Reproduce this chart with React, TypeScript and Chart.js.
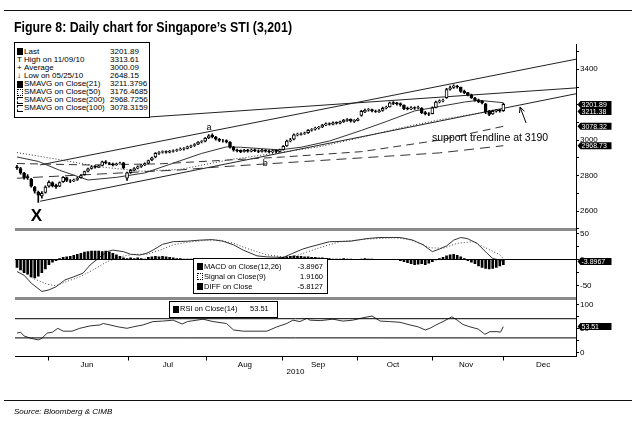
import React, { useEffect, useRef } from 'react';
import { Chart, registerables } from 'chart.js';

Chart.register(...registerables);

const FONT = '"Liberation Sans", Arial, Helvetica, sans-serif';

// ---------------- data ----------------
// x axis: trading-day index (0 = mid May 2010)
const X_MIN = -0.56;
const X_MAX = 157.46;

const MONTH_LABELS = ['Jun', 'Jul', 'Aug', 'Sep', 'Oct', 'Nov', 'Dec'];
const MONTH_STARTS = [9, 31.3, 53.5, 74.9, 95.8, 116.9, 136.9];
const MONTH_MIDS = [19.7, 42.5, 64.2, 84.8, 105.9, 126.5, 148.2];
const YEAR_LABEL = '2010';

const OPENS = [
  2850, 2840, 2812, 2795, 2780, 2735, 2705, 2685, 2705, 2740,
  2760, 2745, 2740, 2765, 2788, 2770, 2770, 2778, 2788, 2805,
  2825, 2840, 2852, 2846, 2858, 2878, 2870, 2866, 2862, 2868,
  2872, 2785, 2818, 2832, 2842, 2852, 2860, 2870, 2888, 2905,
  2926, 2932, 2936, 2932, 2938, 2942, 2946, 2950, 2954, 2964,
  2970, 2978, 2990, 2994, 3012, 3028, 3018, 3004, 2996, 2998,
  2988, 2960, 2944, 2942, 2936, 2944, 2938, 2945, 2940, 2936,
  2943, 2938, 2934, 2942, 2936, 2946, 2968, 2996, 3005, 3030,
  3033, 3038, 3042, 3056, 3062, 3070, 3074, 3086, 3094, 3090,
  3100, 3096, 3104, 3112, 3118, 3106, 3112, 3140, 3160, 3170,
  3172, 3164, 3160, 3168, 3182, 3188, 3212, 3210, 3206, 3198,
  3180, 3176, 3184, 3180, 3180, 3156, 3148, 3150, 3185, 3216,
  3224, 3240, 3288, 3298, 3305, 3298, 3276, 3268, 3256, 3238,
  3226, 3220, 3205, 3162, 3148, 3164, 3170, 3166,
];
const HIGHS = [
  2858, 2846, 2818, 2805, 2784, 2740, 2712, 2710, 2742, 2770,
  2765, 2752, 2765, 2795, 2792, 2778, 2780, 2790, 2805, 2826,
  2842, 2855, 2856, 2858, 2882, 2884, 2875, 2870, 2870, 2876,
  2875, 2820, 2835, 2845, 2855, 2862, 2872, 2888, 2905, 2930,
  2936, 2940, 2940, 2942, 2946, 2950, 2956, 2958, 2966, 2972,
  2980, 2992, 2998, 3015, 3032, 3035, 3022, 3010, 3004, 3002,
  2992, 2965, 2950, 2946, 2948, 2948, 2950, 2950, 2945, 2948,
  2947, 2944, 2946, 2946, 2950, 2970, 3000, 3010, 3035, 3040,
  3042, 3046, 3060, 3066, 3074, 3078, 3090, 3098, 3098, 3104,
  3104, 3108, 3118, 3122, 3120, 3116, 3124, 3168, 3175, 3178,
  3176, 3170, 3172, 3186, 3192, 3215, 3218, 3214, 3210, 3200,
  3186, 3190, 3188, 3192, 3184, 3162, 3156, 3188, 3220, 3228,
  3232, 3292, 3305, 3313, 3310, 3300, 3282, 3270, 3260, 3242,
  3232, 3224, 3208, 3168, 3170, 3174, 3174, 3208,
];
const LOWS = [
  2835, 2808, 2780, 2778, 2735, 2700, 2648, 2672, 2700, 2735,
  2736, 2728, 2738, 2762, 2765, 2760, 2765, 2772, 2785, 2802,
  2820, 2836, 2842, 2844, 2855, 2866, 2862, 2855, 2858, 2864,
  2838, 2772, 2812, 2826, 2838, 2846, 2856, 2866, 2884, 2900,
  2920, 2926, 2926, 2928, 2932, 2936, 2942, 2944, 2950, 2958,
  2965, 2974, 2984, 2990, 3008, 3012, 3000, 2992, 2988, 2984,
  2955, 2938, 2934, 2930, 2932, 2932, 2934, 2935, 2930, 2932,
  2932, 2928, 2930, 2930, 2932, 2944, 2965, 2990, 3002, 3024,
  3028, 3032, 3038, 3050, 3056, 3062, 3070, 3082, 3084, 3086,
  3090, 3092, 3100, 3106, 3102, 3100, 3108, 3136, 3155, 3164,
  3160, 3156, 3156, 3164, 3176, 3186, 3200, 3198, 3192, 3172,
  3170, 3172, 3174, 3176, 3150, 3142, 3138, 3148, 3182, 3210,
  3216, 3236, 3282, 3292, 3294, 3270, 3262, 3250, 3236, 3220,
  3212, 3205, 3150, 3138, 3145, 3158, 3158, 3162,
];
const CLOSES = [
  2843, 2815, 2790, 2788, 2740, 2712, 2690, 2700, 2735, 2762,
  2742, 2738, 2760, 2790, 2772, 2768, 2775, 2785, 2800, 2822,
  2838, 2850, 2848, 2853, 2877, 2872, 2868, 2860, 2866, 2870,
  2845, 2815, 2830, 2840, 2850, 2858, 2868, 2885, 2900, 2925,
  2930, 2935, 2932, 2937, 2940, 2945, 2950, 2952, 2962, 2968,
  2975, 2988, 2992, 3010, 3025, 3020, 3005, 2998, 2996, 2990,
  2962, 2945, 2940, 2935, 2942, 2938, 2944, 2940, 2936, 2942,
  2938, 2935, 2940, 2937, 2945, 2965, 2995, 3002, 3030, 3032,
  3036, 3040, 3055, 3060, 3068, 3072, 3085, 3092, 3090, 3098,
  3096, 3103, 3112, 3116, 3108, 3112, 3118, 3162, 3168, 3172,
  3165, 3162, 3166, 3180, 3185, 3210, 3208, 3206, 3200, 3178,
  3176, 3183, 3180, 3184, 3155, 3150, 3146, 3182, 3215, 3222,
  3225, 3285, 3295, 3306, 3300, 3275, 3268, 3255, 3240, 3225,
  3217, 3210, 3160, 3145, 3163, 3168, 3165, 3201.89,
];

// moving averages, read as [day index, value]
const SMA21 = [[0, 2905], [6, 2880], [12, 2830], [20, 2775], [28, 2790], [36, 2815], [44, 2870], [52, 2925], [59, 2962], [63, 2960], [74, 2945], [80, 2960], [88, 2995], [97, 3055], [104, 3105], [112, 3165], [119, 3190], [126, 3215], [130, 3225], [137, 3211.38]];
const SMA50 = [[0, 2930], [12, 2890], [23, 2850], [35, 2825], [46, 2835], [60, 2890], [74, 2930], [85, 2962], [97, 3015], [108, 3069], [119, 3115], [128, 3145], [137, 3176.47]];
const SMA100 = [[0, 2868], [20, 2860], [40, 2866], [57, 2885], [75, 2905], [97, 2935], [119, 3000], [137, 3078.32]];
const SMA200 = [[0, 2785], [46, 2832], [57, 2849], [97, 2900], [119, 2928], [137, 2968.73]];

// drawn trendlines [day index, price]
const UPPER_CHANNEL = [[6.5, 2860], [157.46, 3457]];
const SUPPORT_LINE = [[6.5, 2655], [157.46, 3262]];
const RESISTANCE_LINE = [[37.5, 3131], [157.46, 3295]];

// MACD panel
const MACD_LINE = [[0, -23], [2, -30], [4, -45], [7, -61], [9, -58], [11, -52], [13.5, -39], [16, -33], [18.6, -26], [20.6, -10.5], [23.4, 5], [25.4, 15], [27, 18], [30, 15], [32, 10], [34.6, 8.6], [36.6, 12], [38.3, 18], [41, 29], [44, 34], [48, 35], [51.5, 37], [55, 38], [58, 35], [61, 28], [63.7, 18], [67.6, 7], [70.4, 5], [75, 4], [77.7, 12], [80.5, 20], [82.5, 24], [88, 34], [94, 35], [98.6, 40], [102, 42], [108, 42], [111.5, 37], [114.4, 28], [117, 15], [119, 20], [121, 26], [123, 37], [125, 42], [126.8, 40], [129.6, 31], [132.4, 12], [134, 2], [136, -1], [137, -3.8967]];
const SIGNAL_LINE = [[0, -14], [4.5, -36], [8.5, -47], [11, -50], [14, -42], [17.7, -33], [21.4, -20], [25.4, -4], [29, 5], [32.7, 10], [36.6, 10], [40.3, 18], [44, 28], [48, 33], [53.5, 37], [57, 37], [61, 31], [64.8, 21], [70.4, 9], [75, 5], [77.7, 5], [81.6, 14], [85.4, 23], [91, 34], [98.6, 39], [106, 41.6], [110, 39], [113.5, 31], [116.3, 22.5], [120, 21.4], [124, 31], [128.5, 34], [132.4, 21], [136, 9], [137, 1.916]];
const DIFF_BARS = [
  -15, -20, -25, -28, -33, -35, -32, -25, -18, -10,
  -5, -2, 2, 4, 5, 6, 8, 10, 12, 14,
  15, 16, 16, 16, 15, 16, 14, 12, 9, 6,
  3, 2, 3, 2, 3, 2, 1, 4, 5, 6,
  5, 6, 5, 4, 3, 2, 2, 1, 1, 1,
  1, 0, 0, 0, -1, -1, -2, -2, -3, -2,
  -3, -2, -1, -1, 0, 0, 0, 0, 0, 0,
  0, 0, 1, 2, 3, 4, 5, 6, 7, 6,
  6, 5, 5, 4, 4, 3, 3, 2, 2, 1,
  1, 1, 2, 1, 1, 0, 0, 1, 2, 1,
  1, 0, 0, 0, 0, 0, 0, 0, -2, -4,
  -6, -8, -10, -9, -8, -10, -7, -4, -1, 2,
  4, 7, 9, 10, 8, 5, 2, -2, -5, -8,
  -12, -15, -17, -18, -17, -15, -12, -10,
];

// RSI panel
const RSI_LINE = [[0, 40], [1, 42], [2, 34], [4, 29], [6, 26], [7, 29], [8.5, 40], [10, 42], [11.5, 50], [13, 44], [15.5, 44], [17.7, 50], [20.6, 55], [23.4, 57], [24.3, 60], [26.2, 57], [28.5, 53], [31, 50], [32.7, 53], [35.5, 57], [38.3, 64], [41, 65], [44, 67], [46.5, 59], [48, 64], [50.7, 67], [52.4, 69], [55.2, 64], [59, 60], [61, 46.5], [63.7, 44], [67.6, 44], [70.4, 44], [73.2, 53], [76, 60], [77.7, 67], [79.7, 64], [81.7, 71], [82.5, 67], [85.4, 66], [89, 69], [91.8, 65], [94.6, 67], [97.5, 72], [100, 75.6], [102.3, 65], [105, 64], [107.9, 62.5], [110.7, 57], [113, 53], [115, 46.5], [116.3, 50], [118.3, 58], [120, 64], [122.5, 74], [124, 67], [125.6, 58], [127.6, 53], [129.9, 48.5], [131.8, 37.5], [133.2, 43], [135.2, 43], [136.2, 42], [137, 53.51]];
const RSI_LEVELS = [70, 30];

// axes
const PRICE_TICKS = [2500, 2600, 2700, 2800, 2900, 3000, 3100, 3200, 3300, 3400, 3500];
const MACD_TICKS = [-50, -25, 0, 25, 50];
const RSI_TICKS = [0, 25, 50, 75, 100];

// last-value flags on the right axis
const PRICE_FLAGS = [3201.89, 3211.38, 3078.32, 2968.73];
const MACD_FLAGS = [-3.8967];
const RSI_FLAGS = [53.51];

// legends
const LEGEND_LABELS = ['Last', 'High on 11/09/10', 'Average', 'Low on 05/25/10', 'SMAVG on Close(21)', 'SMAVG on Close(50)', 'SMAVG on Close(200)', 'SMAVG on Close(100)'];
const LEGEND_VALUES = ['3201.89', '3313.61', '3000.09', '2648.15', '3211.3796', '3176.4685', '2968.7256', '3078.3159'];
const LEGEND_ICONS = ['solid', 'T', '+', '↓', 'solid', 'dotted', 'dashed', 'dashed'];
const MACD_LEGEND_LABELS = ['MACD on Close(12,26)', 'Signal on Close(9)', 'DIFF on Close'];
const MACD_LEGEND_VALUES = ['-3.8967', '1.9160', '-5.8127'];
const MACD_LEGEND_ICONS = ['solid', 'dotted', 'solid'];
const RSI_LEGEND_LABEL = 'RSI on Close(14)';
const RSI_LEGEND_VALUE = '53.51';

// text annotations on the price panel, [day index, price]
const NOTES = [
  { text: 'a', at: [54.1, 3074], font: '9px', align: 'center' },
  { text: 'b', at: [69.9, 2869], font: '9px', align: 'center' },
  { text: 'X', at: [5.5, 2568], font: 'bold 17px', align: 'center' },
  { text: 'support trendline at 3190', at: [116.9, 3010], font: '10.5px', align: 'left' },
];
const NOTE_ARROW = [[143.4, 3097], [141.7, 3187]];

const TITLE = 'Figure 8: Daily chart for Singapore’s STI (3,201)';
const SOURCE = 'Source: Bloomberg & CIMB';

// ---------------- chart helpers ----------------
const pts = (pairs: number[][]) => pairs.map(([x, y]) => ({ x, y }));
const DAYS = CLOSES.map((_, i) => i);

const lineDs = (pairs: number[][], color: string, dash: number[] = [], order = 3, width = 1) => ({
  type: 'line',
  data: pts(pairs),
  borderColor: color,
  borderWidth: width,
  borderDash: dash,
  pointRadius: 0,
  fill: false,
  tension: 0,
  order,
});

const hiddenX = () => ({ type: 'linear', min: X_MIN, max: X_MAX, display: false, offset: false, bounds: 'data' });

const rightAxis = (min: number, max: number, ticks: number[], every: number) => ({
  type: 'linear',
  position: 'right',
  min,
  max,
  bounds: 'data',
  afterBuildTicks: (s: any) => { s.ticks = ticks.map((v) => ({ value: v })); },
  afterFit: (s: any) => { s.width = 61; },
  ticks: {
    autoSkip: false,
    padding: 1,
    color: '#000',
    font: { family: FONT, size: 8 },
    callback: (v: number) => (v % every === 0 ? String(v) : ''),
  },
  grid: { drawOnChartArea: false, drawTicks: true, tickLength: 3, tickColor: '#000', tickWidth: 1 },
  border: { display: true, color: '#000', width: 1 },
});

const baseOptions = (top: number, bottom: number) => ({
  responsive: false,
  animation: false,
  devicePixelRatio: 1,
  events: [],
  layout: { padding: { left: 15, right: 0, top, bottom }, autoPadding: false },
  plugins: { legend: { display: false }, tooltip: { enabled: false } },
});

const flagPlugin = (id: string, values: number[], decimals: number) => ({
  id,
  afterDraw(chart: any) {
    const { ctx, chartArea } = chart;
    const ys = chart.scales.y;
    const H = 7;
    const W = 34;
    const x0 = chartArea.right + 1.5;
    const placed: number[] = [];
    ctx.save();
    ctx.font = `7px ${FONT}`;
    ctx.textBaseline = 'middle';
    ctx.textAlign = 'left';
    values.forEach((v) => {
      let py = ys.getPixelForValue(v);
      placed.forEach((p) => { if (Math.abs(p - py) < H) py = p + H; });
      placed.push(py);
      ctx.fillStyle = '#000';
      ctx.beginPath();
      ctx.moveTo(x0, py);
      ctx.lineTo(x0 + 3, py - H / 2);
      ctx.lineTo(x0 + W, py - H / 2);
      ctx.lineTo(x0 + W, py + H / 2);
      ctx.lineTo(x0 + 3, py + H / 2);
      ctx.closePath();
      ctx.fill();
      ctx.fillStyle = '#fff';
      ctx.fillText(v.toFixed(decimals), x0 + 4, py + 0.5);
    });
    ctx.restore();
  },
});

const notesPlugin = {
  id: 'notes',
  afterDatasetsDraw(chart: any) {
    const { ctx } = chart;
    const xs = chart.scales.x;
    const ys = chart.scales.y;
    ctx.save();
    ctx.fillStyle = '#000';
    ctx.textBaseline = 'middle';
    NOTES.forEach((n) => {
      ctx.font = `${n.font} ${FONT}`;
      ctx.textAlign = n.align;
      ctx.fillText(n.text, xs.getPixelForValue(n.at[0]), ys.getPixelForValue(n.at[1]));
    });
    const [a, b] = NOTE_ARROW;
    const x1 = xs.getPixelForValue(a[0]);
    const y1 = ys.getPixelForValue(a[1]);
    const x2 = xs.getPixelForValue(b[0]);
    const y2 = ys.getPixelForValue(b[1]);
    const ang = Math.atan2(y2 - y1, x2 - x1);
    ctx.strokeStyle = '#000';
    ctx.lineWidth = 1;
    ctx.beginPath();
    ctx.moveTo(x1, y1);
    ctx.lineTo(x2, y2);
    ctx.moveTo(x2 - 6 * Math.cos(ang - 0.45), y2 - 6 * Math.sin(ang - 0.45));
    ctx.lineTo(x2, y2);
    ctx.lineTo(x2 - 6 * Math.cos(ang + 0.45), y2 - 6 * Math.sin(ang + 0.45));
    ctx.stroke();
    ctx.restore();
  },
};

function priceConfig(): any {
  return {
    type: 'bar',
    data: {
      datasets: [
        {
          type: 'bar',
          data: DAYS.map((i) => ({ x: i, y: [OPENS[i], CLOSES[i]] })),
          backgroundColor: DAYS.map((i) => (CLOSES[i] >= OPENS[i] ? '#fff' : '#000')),
          borderColor: '#000',
          borderWidth: 1,
          borderSkipped: false,
          barThickness: 3,
          grouped: false,
          order: 0,
        },
        {
          type: 'bar',
          data: DAYS.map((i) => ({ x: i, y: [LOWS[i], HIGHS[i]] })),
          backgroundColor: '#000',
          borderWidth: 0,
          barThickness: 1,
          grouped: false,
          order: 1,
        },
        lineDs(SMA21, '#333'),
        lineDs(SMA50, '#333', [1, 2]),
        lineDs(SMA100, '#333', [8, 5]),
        lineDs(SMA200, '#333', [10, 6]),
        lineDs(UPPER_CHANNEL, '#222'),
        lineDs(SUPPORT_LINE, '#222'),
        lineDs(RESISTANCE_LINE, '#222'),
      ],
    },
    options: {
      ...baseOptions(44, 197.5),
      scales: { x: hiddenX(), y: rightAxis(2495.6, 3542.8, PRICE_TICKS, 200) },
    },
    plugins: [notesPlugin, flagPlugin('priceFlags', PRICE_FLAGS, 2)],
  };
}

function macdConfig(): any {
  return {
    type: 'bar',
    data: {
      datasets: [
        {
          type: 'bar',
          data: DAYS.map((i) => ({ x: i, y: DIFF_BARS[i] })),
          backgroundColor: '#000',
          borderWidth: 0,
          barThickness: 2,
          grouped: false,
          order: 1,
        },
        lineDs([[X_MIN, 0], [X_MAX, 0]], '#000', [], 0),
        lineDs(MACD_LINE, '#333'),
        lineDs(SIGNAL_LINE, '#444', [1, 2]),
      ],
    },
    options: {
      ...baseOptions(229.5, 128.5),
      scales: { x: hiddenX(), y: rightAxis(-74.4, 57.3, MACD_TICKS, 50) },
    },
    plugins: [flagPlugin('macdFlags', MACD_FLAGS, 4)],
  };
}

function rsiConfig(): any {
  return {
    type: 'line',
    data: {
      datasets: [
        lineDs(RSI_LINE, '#333'),
        ...RSI_LEVELS.map((lv) => lineDs([[X_MIN, lv], [X_MAX, lv]], '#000', [], 0)),
      ],
    },
    options: {
      ...baseOptions(298.5, 50.2),
      scales: {
        x: {
          type: 'linear',
          position: 'bottom',
          weight: 0,
          min: X_MIN,
          max: X_MAX,
          bounds: 'data',
          offset: false,
          afterBuildTicks: (s: any) => { s.ticks = MONTH_STARTS.map((v) => ({ value: v })); },
          afterFit: (s: any) => { s.height = 3; },
          ticks: { display: false, autoSkip: false },
          grid: { drawOnChartArea: false, drawTicks: true, tickLength: 4, tickColor: '#000' },
          border: { display: true, color: '#000', width: 1 },
        },
        x2: {
          type: 'linear',
          position: 'bottom',
          weight: 1,
          min: X_MIN,
          max: X_MAX,
          bounds: 'data',
          offset: false,
          afterBuildTicks: (s: any) => { s.ticks = MONTH_MIDS.map((v) => ({ value: v })); },
          afterFit: (s: any) => { s.height = 17.3; },
          ticks: {
            autoSkip: false,
            maxRotation: 0,
            padding: 0,
            color: '#000',
            font: { family: FONT, size: 8 },
            callback: (_v: number, i: number) => MONTH_LABELS[i],
          },
          grid: { display: false, drawTicks: false },
          border: { display: false },
          title: { display: true, text: YEAR_LABEL, color: '#000', padding: 0, font: { family: FONT, size: 8 } },
        },
        y: rightAxis(-8.75, 112.1, RSI_TICKS, 50),
      },
    },
    plugins: [flagPlugin('rsiFlags', RSI_FLAGS, 2)],
  };
}

// ---------------- html helpers ----------------
const abs = (s: any): React.CSSProperties => ({ position: 'absolute', ...s });

function textWidth(text: string, font: string) {
  const c = document.createElement('canvas').getContext('2d');
  if (!c) return 1;
  c.font = font;
  return c.measureText(text).width || 1;
}

function Icon({ kind, x, cy }: { kind: string; x: number; cy: number }) {
  if (kind === 'solid') return <div style={abs({ left: x, top: cy - 3.5, width: 6, height: 7, background: '#000' })} />;
  if (kind === 'dotted')
    return <div style={abs({ left: x, top: cy - 3.5, width: 6, height: 7, border: '1px dotted #000', boxSizing: 'border-box' })} />;
  if (kind === 'dashed')
    return (
      <div
        style={abs({
          left: x, top: cy - 3.5, width: 6, height: 7,
          borderLeft: '1px dashed #000', borderBottom: '1px dashed #000', borderTop: '1px dashed #000',
          boxSizing: 'border-box',
        })}
      />
    );
  return <div style={abs({ left: x, top: cy - 5, height: 10, lineHeight: '10px', fontSize: 8 })}>{kind}</div>;
}

export default function App() {
  const priceRef = useRef<HTMLCanvasElement>(null);
  const macdRef = useRef<HTMLCanvasElement>(null);
  const rsiRef = useRef<HTMLCanvasElement>(null);

  useEffect(() => {
    const charts = [
      new Chart(priceRef.current as HTMLCanvasElement, priceConfig()),
      new Chart(macdRef.current as HTMLCanvasElement, macdConfig()),
      new Chart(rsiRef.current as HTMLCanvasElement, rsiConfig()),
    ];
    return () => charts.forEach((c) => c.destroy());
  }, []);

  const titleScale = 278 / textWidth(TITLE, `bold 15px ${FONT}`);
  const canvasStyle = abs({ left: 0, top: 0, width: 637, height: 427, display: 'block' });

  return (
    <div style={{ position: 'fixed', left: 0, top: 0, width: 637, height: 427, background: '#fff', overflow: 'hidden', fontFamily: FONT, color: '#000' }}>
      <canvas ref={priceRef} width={637} height={427} style={canvasStyle} />
      <canvas ref={macdRef} width={637} height={427} style={canvasStyle} />
      <canvas ref={rsiRef} width={637} height={427} style={canvasStyle} />

      {/* rules and title */}
      <div style={abs({ left: 4, top: 10, width: 628, height: 1, background: '#111' })} />
      <div
        style={abs({
          left: 14, top: 18.8, fontSize: 15, lineHeight: '15px', fontWeight: 'bold', whiteSpace: 'nowrap',
          transform: `scaleX(${titleScale})`, transformOrigin: 'left top',
        })}
      >
        {TITLE}
      </div>

      {/* panel separators */}
      <div style={abs({ left: 15, top: 228, width: 561, height: 3, background: '#8a8a8a' })} />
      <div style={abs({ left: 15, top: 297, width: 561, height: 3, background: '#8a8a8a' })} />

      {/* price legend */}
      <div style={abs({ left: 14, top: 42, width: 136, height: 76, border: '1px solid #000', background: '#fff', boxSizing: 'border-box' })} />
      {LEGEND_LABELS.map((t, k) => {
        const cy = 51.7 + 8.1 * k;
        return (
          <React.Fragment key={k}>
            <Icon kind={LEGEND_ICONS[k]} x={17} cy={cy} />
            <div style={abs({ left: 24, top: cy - 5, height: 10, lineHeight: '10px', fontSize: 8, whiteSpace: 'nowrap' })}>{t}</div>
            <div style={abs({ left: 110, top: cy - 5, height: 10, lineHeight: '10px', fontSize: 8, whiteSpace: 'nowrap' })}>{LEGEND_VALUES[k]}</div>
          </React.Fragment>
        );
      })}

      {/* MACD legend */}
      <div style={abs({ left: 193, top: 258, width: 135, height: 36, border: '1px solid #000', background: '#fff', boxSizing: 'border-box' })} />
      {MACD_LEGEND_LABELS.map((t, k) => {
        const cy = 266.7 + 10 * k;
        return (
          <React.Fragment key={k}>
            <Icon kind={MACD_LEGEND_ICONS[k]} x={197} cy={cy} />
            <div style={abs({ left: 204, top: cy - 5, height: 10, lineHeight: '10px', fontSize: 7.5, whiteSpace: 'nowrap' })}>{t}</div>
            <div style={abs({ left: 280, width: 43, top: cy - 5, height: 10, lineHeight: '10px', fontSize: 7.5, textAlign: 'right', whiteSpace: 'nowrap' })}>{MACD_LEGEND_VALUES[k]}</div>
          </React.Fragment>
        );
      })}

      {/* RSI legend */}
      <div style={abs({ left: 169, top: 301, width: 109, height: 17, border: '1px solid #000', background: '#fff', boxSizing: 'border-box' })} />
      <Icon kind="solid" x={173} cy={309.3} />
      <div style={abs({ left: 180, top: 304.3, height: 10, lineHeight: '10px', fontSize: 7.5, whiteSpace: 'nowrap' })}>{RSI_LEGEND_LABEL}</div>
      <div style={abs({ left: 250, top: 304.3, height: 10, lineHeight: '10px', fontSize: 7.5, whiteSpace: 'nowrap' })}>{RSI_LEGEND_VALUE}</div>

      {/* footer */}
      <div style={abs({ left: 4, top: 400, width: 628, height: 1, background: '#111' })} />
      <div style={abs({ left: 14, top: 407.7, fontSize: 8, lineHeight: '8px', fontStyle: 'italic', whiteSpace: 'nowrap' })}>{SOURCE}</div>
    </div>
  );
}
